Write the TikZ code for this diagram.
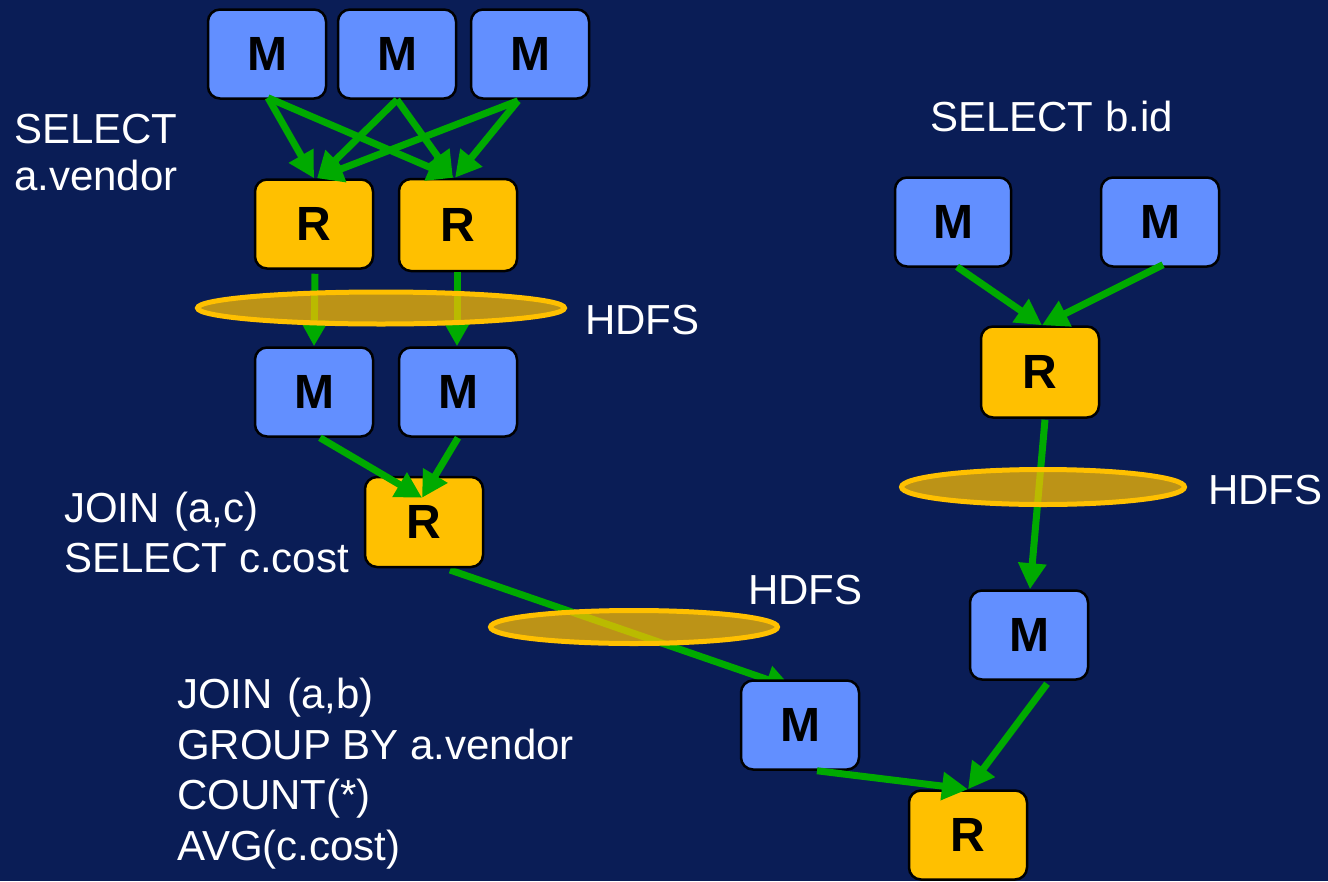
\documentclass[tikz,border=0pt]{standalone}
\usepackage{fontspec}
\setmainfont{Liberation Sans}
\usetikzlibrary{arrows.meta,calc,shapes.geometric}

\definecolor{bgblue}{RGB}{10,29,86}
\definecolor{mapblue}{RGB}{98,143,255}
\definecolor{redgold}{RGB}{255,192,0}
\definecolor{flowgreen}{RGB}{0,170,0}

\tikzset{
  taskbox/.style={rectangle, rounded corners=12pt, draw=black, line width=2.5pt,
    minimum width=118pt, minimum height=89pt, inner sep=0pt,
    font=\bfseries\fontsize{48}{48}\selectfont, text=black},
  mapbox/.style={taskbox, fill=mapblue},
  redbox/.style={taskbox, fill=redgold},
  flow/.style={draw=flowgreen, line width=7pt, -{Triangle[length=26pt,width=27pt]}},
  hdfs/.style={ellipse, draw=redgold, line width=5pt, fill=redgold, fill opacity=0.73,
    draw opacity=1, inner sep=0pt},
  label/.style={anchor=base west, inner sep=0pt, text=white,
    font=\fontsize{42}{50}\selectfont},
}

\begin{document}
\begin{tikzpicture}[x=1pt,y=-1pt]
  \useasboundingbox (0,0) rectangle (1328,881);
  \fill[bgblue] (0,0) rectangle (1328,881);

  % text labels
  \node[label] (t1a) at (14,143) {SELECT};
  \node[label] (t1b) at (14,190) {a.vendor};
  \node[label] (t2) at (930,131) {SELECT b.id};
  \node[label] (hl1) at (585,334) {HDFS};
  \node[label] (hl2) at (748,604) {HDFS};
  \node[label] (hl3) at (1208,504) {HDFS};
  \node[label] (t3a) at (64,522) {JOIN\hspace{3pt} (a,c)};
  \node[label] (t3b) at (64,572) {SELECT c.cost};
  \node[label] (t4a) at (177,708) {JOIN\hspace{3pt} (a,b)};
  \node[label] (t4b) at (177,759) {GROUP BY a.vendor};
  \node[label] (t4c) at (177,809) {COUNT(*)};
  \node[label] (t4d) at (177,860) {AVG(c.cost)};

  % the join output runs under the map box below it
  \coordinate (j1) at ($(424,568)+(26,2)$);
  \coordinate (j2) at (792,688);
  \draw[flow] (j1) -- (j2);

  % first job: three maps, two reducers
  \node[mapbox] (m1) at (267,54) {M};
  \node[mapbox] (m2) at (397,54) {M};
  \node[mapbox] (m3) at (530,54) {M};
  \node[redbox] (r1) at (314,224) {R};
  \node[redbox, minimum height=92pt] (r2) at (458,225) {R};

  % second job
  \node[mapbox] (m4) at (314,392) {M};
  \node[mapbox] (m5) at (458,392) {M};
  \node[redbox, minimum height=90pt] (r3) at (424,522) {R};

  % right branch
  \node[mapbox, minimum width=116pt] (m7) at (953,222) {M};
  \node[mapbox] (m8) at (1160,222) {M};
  \node[redbox, minimum height=91pt] (r4) at (1040,372) {R};
  \node[mapbox] (m9) at (1029,635) {M};

  % final job
  \node[mapbox] (m6) at (800,725) {M};
  \node[redbox] (r5) at (968,835) {R};

  % shuffles of the first job
  \draw[flow] ($(m1.south)+(1,-2)$) -- (r1.north);
  \draw[flow] ($(m1.south)+(1,-2)$) -- ($(r2.north)+(-4,0)$);
  \draw[flow] (m2.south) -- ($(r1.north)+(3,0)$);
  \draw[flow] (m2.south) -- ($(r2.north)+(-5,0)$);
  \draw[flow] ($(m3.south)+(-12,1)$) -- ($(r1.north)+(3,0)$);
  \draw[flow] ($(m3.south)+(-12,1)$) -- ($(r2.north)+(-3,0)$);

  % reducers write to HDFS, maps read back
  \draw[flow] ($(r1.south)+(1,4)$) -- ($(m4.north)+(0,0)$);
  \draw[flow] ($(r2.south)+(-1,0)$) -- ($(m5.north)+(-1,0)$);

  % second shuffle
  \draw[flow] ($(m4.south)+(6,0)$) -- ($(r3.north)+(-2,22)$);
  \draw[flow] (m5.south) -- ($(r3.north)+(-2,22)$);

  % right branch flows
  \draw[flow] ($(m7.south)+(4,-1)$) -- ($(r4.north)+(2,0)$);
  \draw[flow] ($(m8.south)+(3,-3)$) -- ($(r4.north)+(2,0)$);
  \draw[flow] ($(r4.south)+(5,1)$) -- ($(m9.north)+(1,0)$);

  % final shuffle
  \draw[flow] ($(m6.south)+(17,0)$) -- (r5.north);
  \draw[flow] ($(m9.south)+(18,3)$) -- (r5.north);

  % HDFS stores
  \node[hdfs, minimum width=367pt, minimum height=32pt] (h1) at (381,308) {};
  \node[hdfs, minimum width=287pt, minimum height=33pt] (h2) at (634,627) {};
  \node[hdfs, minimum width=283pt, minimum height=35pt] (h3) at (1043,487) {};
\end{tikzpicture}
\end{document}
